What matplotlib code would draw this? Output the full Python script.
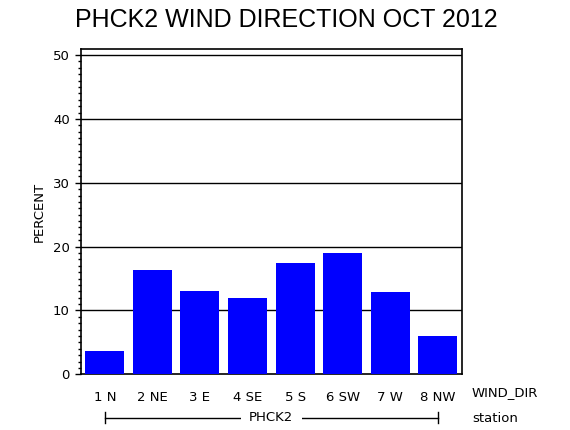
import numpy as np
import matplotlib
matplotlib.use("Agg")
import matplotlib.pyplot as plt
from matplotlib.ticker import MultipleLocator
import matplotlib.transforms as mtransforms

# wind direction categories and percent of hours
directions = ['1 N', '2 NE', '3 E', '4 SE', '5 S', '6 SW', '7 W', '8 NW']
percent = [3.6, 16.3, 13.0, 11.9, 17.4, 18.95, 12.85, 6.0]
yticks = [0, 10, 20, 30, 40, 50]
station = 'PHCK2'
title = 'PHCK2 WIND DIRECTION OCT 2012'

fig = plt.figure(figsize=(5.7, 4.3), dpi=100)
ax = fig.add_axes([81/570, 1 - 374.3/430, (461.7 - 81)/570, (374.3 - 49.3)/430])

x = np.arange(len(directions))
ax.bar(x, percent, width=0.82, color='#0000ff', zorder=3)

ax.set_xlim(-0.5, len(directions) - 0.5)
ax.set_ylim(0, 50.9)
for t in yticks[1:]:
    ax.axhline(t, color='black', linewidth=1.0, zorder=2)

ax.set_yticks(yticks)
ax.set_yticklabels([str(t) for t in yticks], fontsize=9.5)
ax.yaxis.set_minor_locator(MultipleLocator(1))
ax.tick_params(axis='y', which='major', length=4, width=1, direction='out', pad=4)
ax.tick_params(axis='y', which='minor', length=2, width=1, direction='out')
ax.set_xticks(x)
ax.set_xticklabels(directions, fontsize=9.5)
ax.tick_params(axis='x', length=0, pad=12)
for s in ax.spines.values():
    s.set_linewidth(1.2)

# ylabel placed by hand, closer to the tick labels
fig.text(39/570, 1 - 212/430, 'PERCENT', rotation=90, ha='center', va='center',
         fontsize=9.5)

fig.text(286/570, 1 - 20/430, title, ha='center', va='center',
         fontsize=18, family='Liberation Sans')
fig.text(472/570, 1 - 393/430, 'WIND_DIR', ha='left', va='center', fontsize=9.5)
fig.text(472/570, 1 - 419/430, 'station', ha='left', va='center', fontsize=9.5)

# bracket under the categories
trans = mtransforms.blended_transform_factory(ax.transData, fig.transFigure)
yb = 1 - 417.5/430
ax.plot([0, 7], [yb, yb], color='black', linewidth=1, transform=trans, clip_on=False)
for xe in [0, 7]:
    ax.plot([xe, xe], [1 - 411.5/430, 1 - 423/430], color='black', linewidth=1,
            transform=trans, clip_on=False)
ax.text(3.5, yb, station, ha='center', va='center', fontsize=9.5, transform=trans,
        bbox=dict(facecolor='white', edgecolor='none', pad=6))

fig.savefig('out.png', dpi=100)
